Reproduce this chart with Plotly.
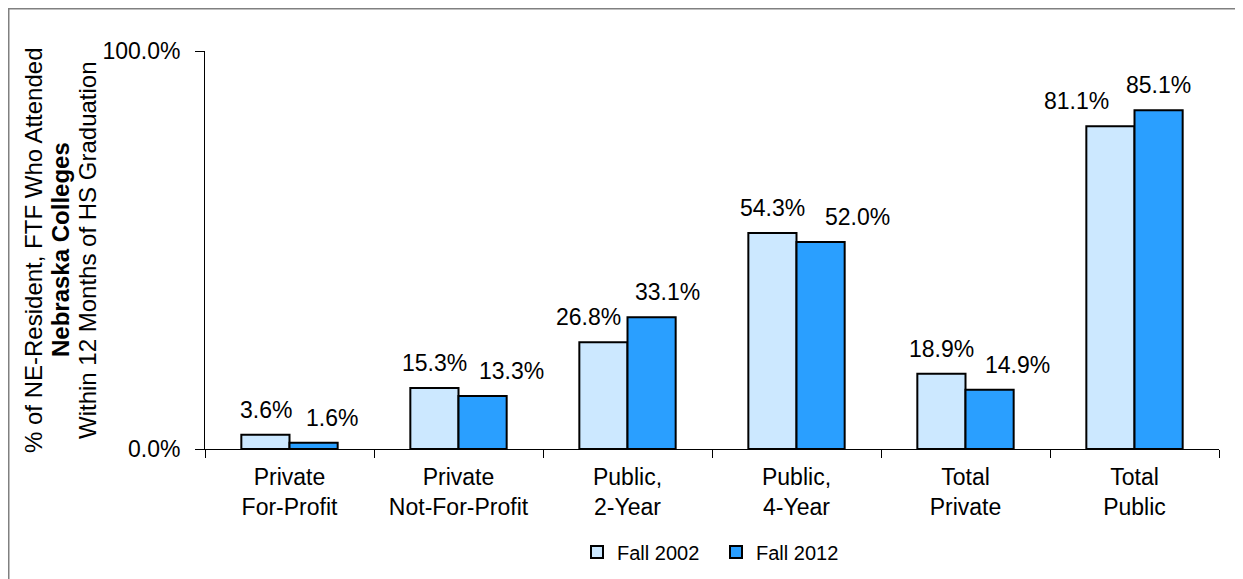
import plotly.graph_objects as go

categories = ["Private<br>For-Profit", "Private<br>Not-For-Profit", "Public,<br>2-Year",
              "Public,<br>4-Year", "Total<br>Private", "Total<br>Public"]
fall_2002 = [3.6, 15.3, 26.8, 54.3, 18.9, 81.1]
fall_2012 = [1.6, 13.3, 33.1, 52.0, 14.9, 85.1]

# hand-nudged label offsets (px from bar centre), like in the original workbook
nudge_2002 = [0, 0, -15, 0, 0, -34]
nudge_2012 = [18, 29, 16, 37, 28, 0]

series = [("Fall 2002", fall_2002, "#CCE8FF", -24, nudge_2002),
          ("Fall 2012", fall_2012, "#2A9FFF", 24, nudge_2012)]

FONT = "Liberation Sans, Arial, sans-serif"

# page body has an 8px margin, so work in figure px = screen px - 8
L, T, PW, PH = 197, 43, 1014, 398


def px_x(sx):
    return (sx - 8 - L) / PW


fig = go.Figure()
annos = []
for name, vals, col, off, nudge in series:
    fig.add_trace(go.Bar(
        name=name, x=categories, y=[v / 100 for v in vals],
        marker=dict(color=col, line=dict(color="black", width=2)),
    ))
    for c, v, n in zip(categories, vals, nudge):
        annos.append(dict(x=c, y=v / 100, xref="x", yref="y", text=f"{v:.1f}%",
                          showarrow=False, yanchor="bottom", xanchor="center",
                          xshift=off + n, yshift=10,
                          font=dict(size=23, color="black")))

title_lines = ["% of NE-Resident, FTF Who Attended", "<b>Nebraska Colleges</b>",
               "Within 12 Months of HS Graduation"]
for sx, line in zip([33, 60, 87], title_lines):
    annos.append(dict(x=px_x(sx), xref="paper", y=0.5, yref="paper", textangle=-90,
                      showarrow=False, text=line, xanchor="center", yanchor="middle",
                      font=dict(size=24, color="black")))

fig.update_layout(
    width=1243, height=579,
    margin=dict(l=L, r=1243 - L - PW, t=T, b=579 - T - PH),
    paper_bgcolor="white", plot_bgcolor="white",
    font=dict(family=FONT, size=23, color="black"),
    barmode="group", bargap=0.43, bargroupgap=0,
    showlegend=True,
    legend=dict(orientation="h", x=px_x(577), xanchor="left", y=-0.259, yanchor="middle",
                font=dict(size=20), traceorder="normal",
                entrywidth=94, entrywidthmode="pixels"),
    xaxis=dict(showline=True, linecolor="black", linewidth=1, ticks="outside",
               tickson="boundaries", ticklen=8, tickcolor="black", ticklabelstandoff=7,
               tickfont=dict(size=23), automargin=False),
    yaxis=dict(range=[0, 1], tickvals=[0, 1], tickformat=".1%", showgrid=False,
               zeroline=False, showline=True, linecolor="black", linewidth=1,
               ticks="outside", ticklen=9, tickcolor="black", ticklabelstandoff=10,
               tickfont=dict(size=23), automargin=False),
    annotations=annos,
    shapes=[dict(type="rect", xref="paper", yref="paper",
                 x0=(0.5 - L) / PW, x1=1.2,
                 y0=-0.5, y1=1 + (T - 0.5) / PH, line=dict(color="#808080", width=2))],
)

fig.write_html("out.html")
